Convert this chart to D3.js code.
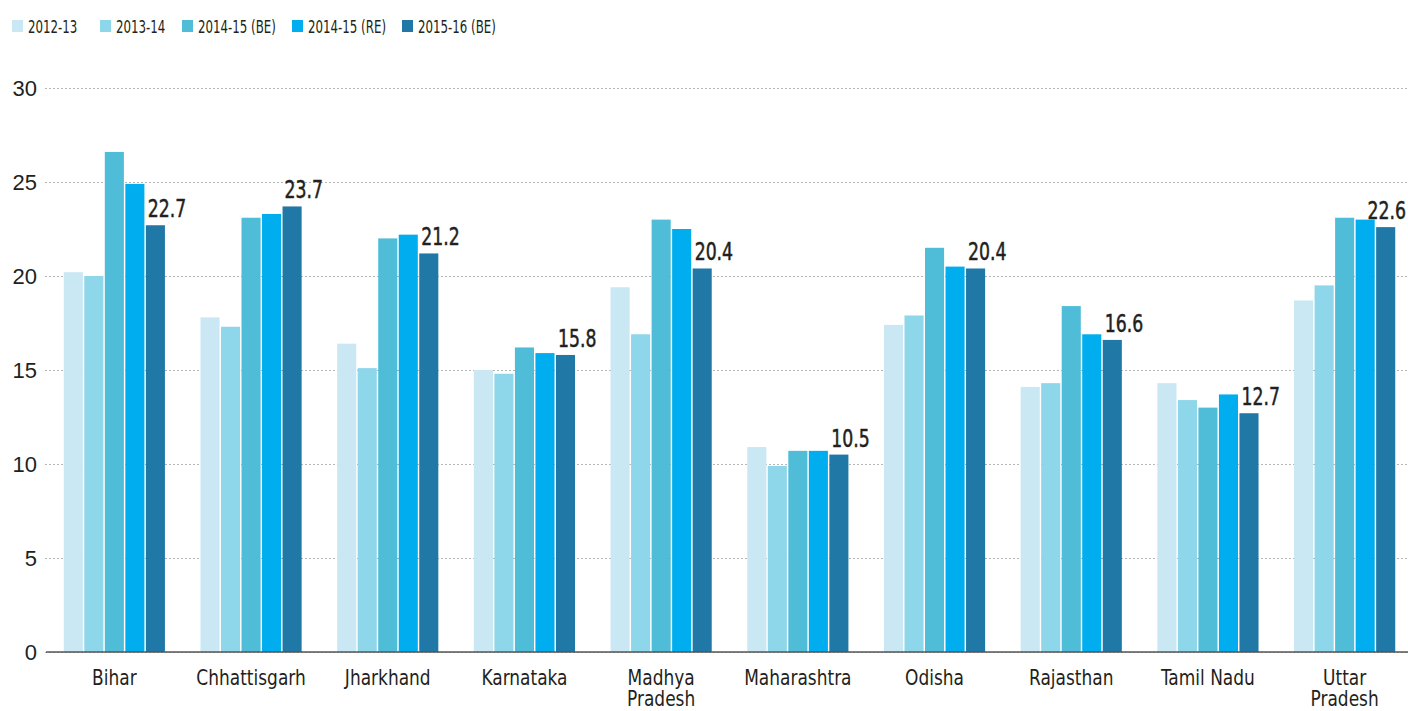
<!DOCTYPE html>
<html>
<head>
<meta charset="utf-8">
<script src="https://cdn.jsdelivr.net/npm/d3@7"></script>
<style>
  html, body { margin: 0; padding: 0; background: #fff; }
  #main { width: 1408px; height: 711px; position: relative; }
  text { font-family: "DejaVu Sans Condensed", "DejaVu Sans", sans-serif; font-stretch: condensed; fill: #231f20; }
</style>
</head>
<body>
<div id="main"></div>
<script>
"use strict";

var states = ["Bihar", "Chhattisgarh", "Jharkhand", "Karnataka", "Madhya Pradesh",
              "Maharashtra", "Odisha", "Rajasthan", "Tamil Nadu", "Uttar Pradesh"];
var seriesNames = ["2012-13", "2013-14", "2014-15 (BE)", "2014-15 (RE)", "2015-16 (BE)"];
var seriesColors = ["#c9e8f3", "#8ed6ea", "#4fbdd8", "#00aeef", "#1f78a6"];

var v2012 = [20.2, 17.8, 16.4, 15.0, 19.4, 10.9, 17.4, 14.1, 14.3, 18.7];
var v2013 = [20.0, 17.3, 15.1, 14.8, 16.9, 9.9, 17.9, 14.3, 13.4, 19.5];
var v2014be = [26.6, 23.1, 22.0, 16.2, 23.0, 10.7, 21.5, 18.4, 13.0, 23.1];
var v2014re = [24.9, 23.3, 22.2, 15.9, 22.5, 10.7, 20.5, 16.9, 13.7, 23.0];
var v2015be = [22.7, 23.7, 21.2, 15.8, 20.4, 10.5, 20.4, 16.6, 12.7, 22.6];
var yTicks = [0, 5, 10, 15, 20, 25, 30];

var seriesValues = [v2012, v2013, v2014be, v2014re, v2015be];

var W = 1408, H = 711;
var plotLeft = 46, plotRight = 1413, plotTop = 88, plotBottom = 652;

var svg = d3.select("#main").append("svg")
    .attr("width", W)
    .attr("height", H);

var x0 = d3.scaleBand().domain(states).range([plotLeft, plotRight])
    .paddingInner(0.26).paddingOuter(0.13);
var x1 = d3.scaleBand().domain(d3.range(seriesNames.length))
    .range([0, x0.bandwidth()]).paddingInner(0.07);
var y = d3.scaleLinear().domain([0, 30]).range([plotBottom, plotTop]);

// narrow text: squeeze glyphs horizontally
function place(sel, fx, fy, sx){
    sel.attr("transform", function(d, i){
        return "translate(" + fx(d, i) + "," + fy(d, i) + ") scale(" + sx + ",1)";
    });
}

// gridlines + tick labels
var yAxis = svg.append("g")
    .attr("transform", "translate(" + plotLeft + ",0)")
    .call(d3.axisLeft(y).tickValues(yTicks).tickSize(-(W - plotLeft)).tickPadding(9));
yAxis.select(".domain").remove();
yAxis.selectAll(".tick line")
    .attr("x1", -1)
    .attr("stroke", "#b5b5b5")
    .attr("stroke-dasharray", "2,2")
    .attr("stroke-width", 1);
yAxis.selectAll(".tick text")
    .style("font-size", "22px")
    .style("font-family", "'Liberation Sans', sans-serif")
    .attr("fill", "#231f20");

// bars
var groups = svg.append("g").selectAll("g")
    .data(states)
    .join("g")
    .attr("transform", function(d){ return "translate(" + x0(d) + ",0)"; });

groups.selectAll("rect")
    .data(function(d, i){ return seriesValues.map(function(s, k){ return {k: k, v: s[i]}; }); })
    .join("rect")
    .attr("x", function(d){ return x1(d.k); })
    .attr("width", x1.bandwidth())
    .attr("y", function(d){ return y(d.v); })
    .attr("height", function(d){ return y(0) - y(d.v); })
    .attr("fill", function(d){ return seriesColors[d.k]; });

// value labels on the last series
var labelScale = 0.8;
var labels = svg.append("g").selectAll("text")
    .data(states)
    .join("text")
    .style("font-size", "24px")
    .attr("stroke", "#231f20")
    .attr("stroke-width", 0.5)
    .text(function(d, i){ return v2015be[i].toFixed(1); });
labels.each(function(d, i){
    var w = this.getBBox().width * labelScale;
    var lx = Math.min(x0(d) + x1(4) + 2, W - 2 - w);
    d3.select(this).attr("transform",
        "translate(" + lx + "," + (y(v2015be[i]) - 8) + ") scale(" + labelScale + ",1)");
});

// x axis line
svg.append("line")
    .attr("x1", plotLeft).attr("x2", W)
    .attr("y1", y(0)).attr("y2", y(0))
    .attr("stroke", "#555").attr("stroke-width", 1.5);

// category labels
var cats = svg.append("g").selectAll("text")
    .data(states)
    .join("text")
    .attr("text-anchor", "middle")
    .style("font-size", "21px")
    .each(function(d){
        var words = d.split(" ");
        var t = d3.select(this);
        if (d === "Madhya Pradesh" || d === "Uttar Pradesh") {
            t.append("tspan").attr("x", 0).attr("dy", 0).text(words[0]);
            t.append("tspan").attr("x", 0).attr("dy", 21).text(words[1]);
        } else {
            t.text(d);
        }
    });
place(cats, function(d){ return x0(d) + x0.bandwidth() / 2; }, function(){ return 685; }, 0.9);

// legend
var legendX = [12, 100, 182, 292, 402];
var legend = svg.append("g").selectAll("g")
    .data(seriesNames)
    .join("g")
    .attr("transform", function(d, i){ return "translate(" + legendX[i] + ",20)"; });
legend.append("rect")
    .attr("width", 11).attr("height", 12)
    .attr("fill", function(d, i){ return seriesColors[i]; });
var legText = legend.append("text")
    .style("font-size", "18px")
    .text(function(d){ return d; });
place(legText, function(){ return 16; }, function(){ return 13; }, 0.73);
</script>
</body>
</html>
